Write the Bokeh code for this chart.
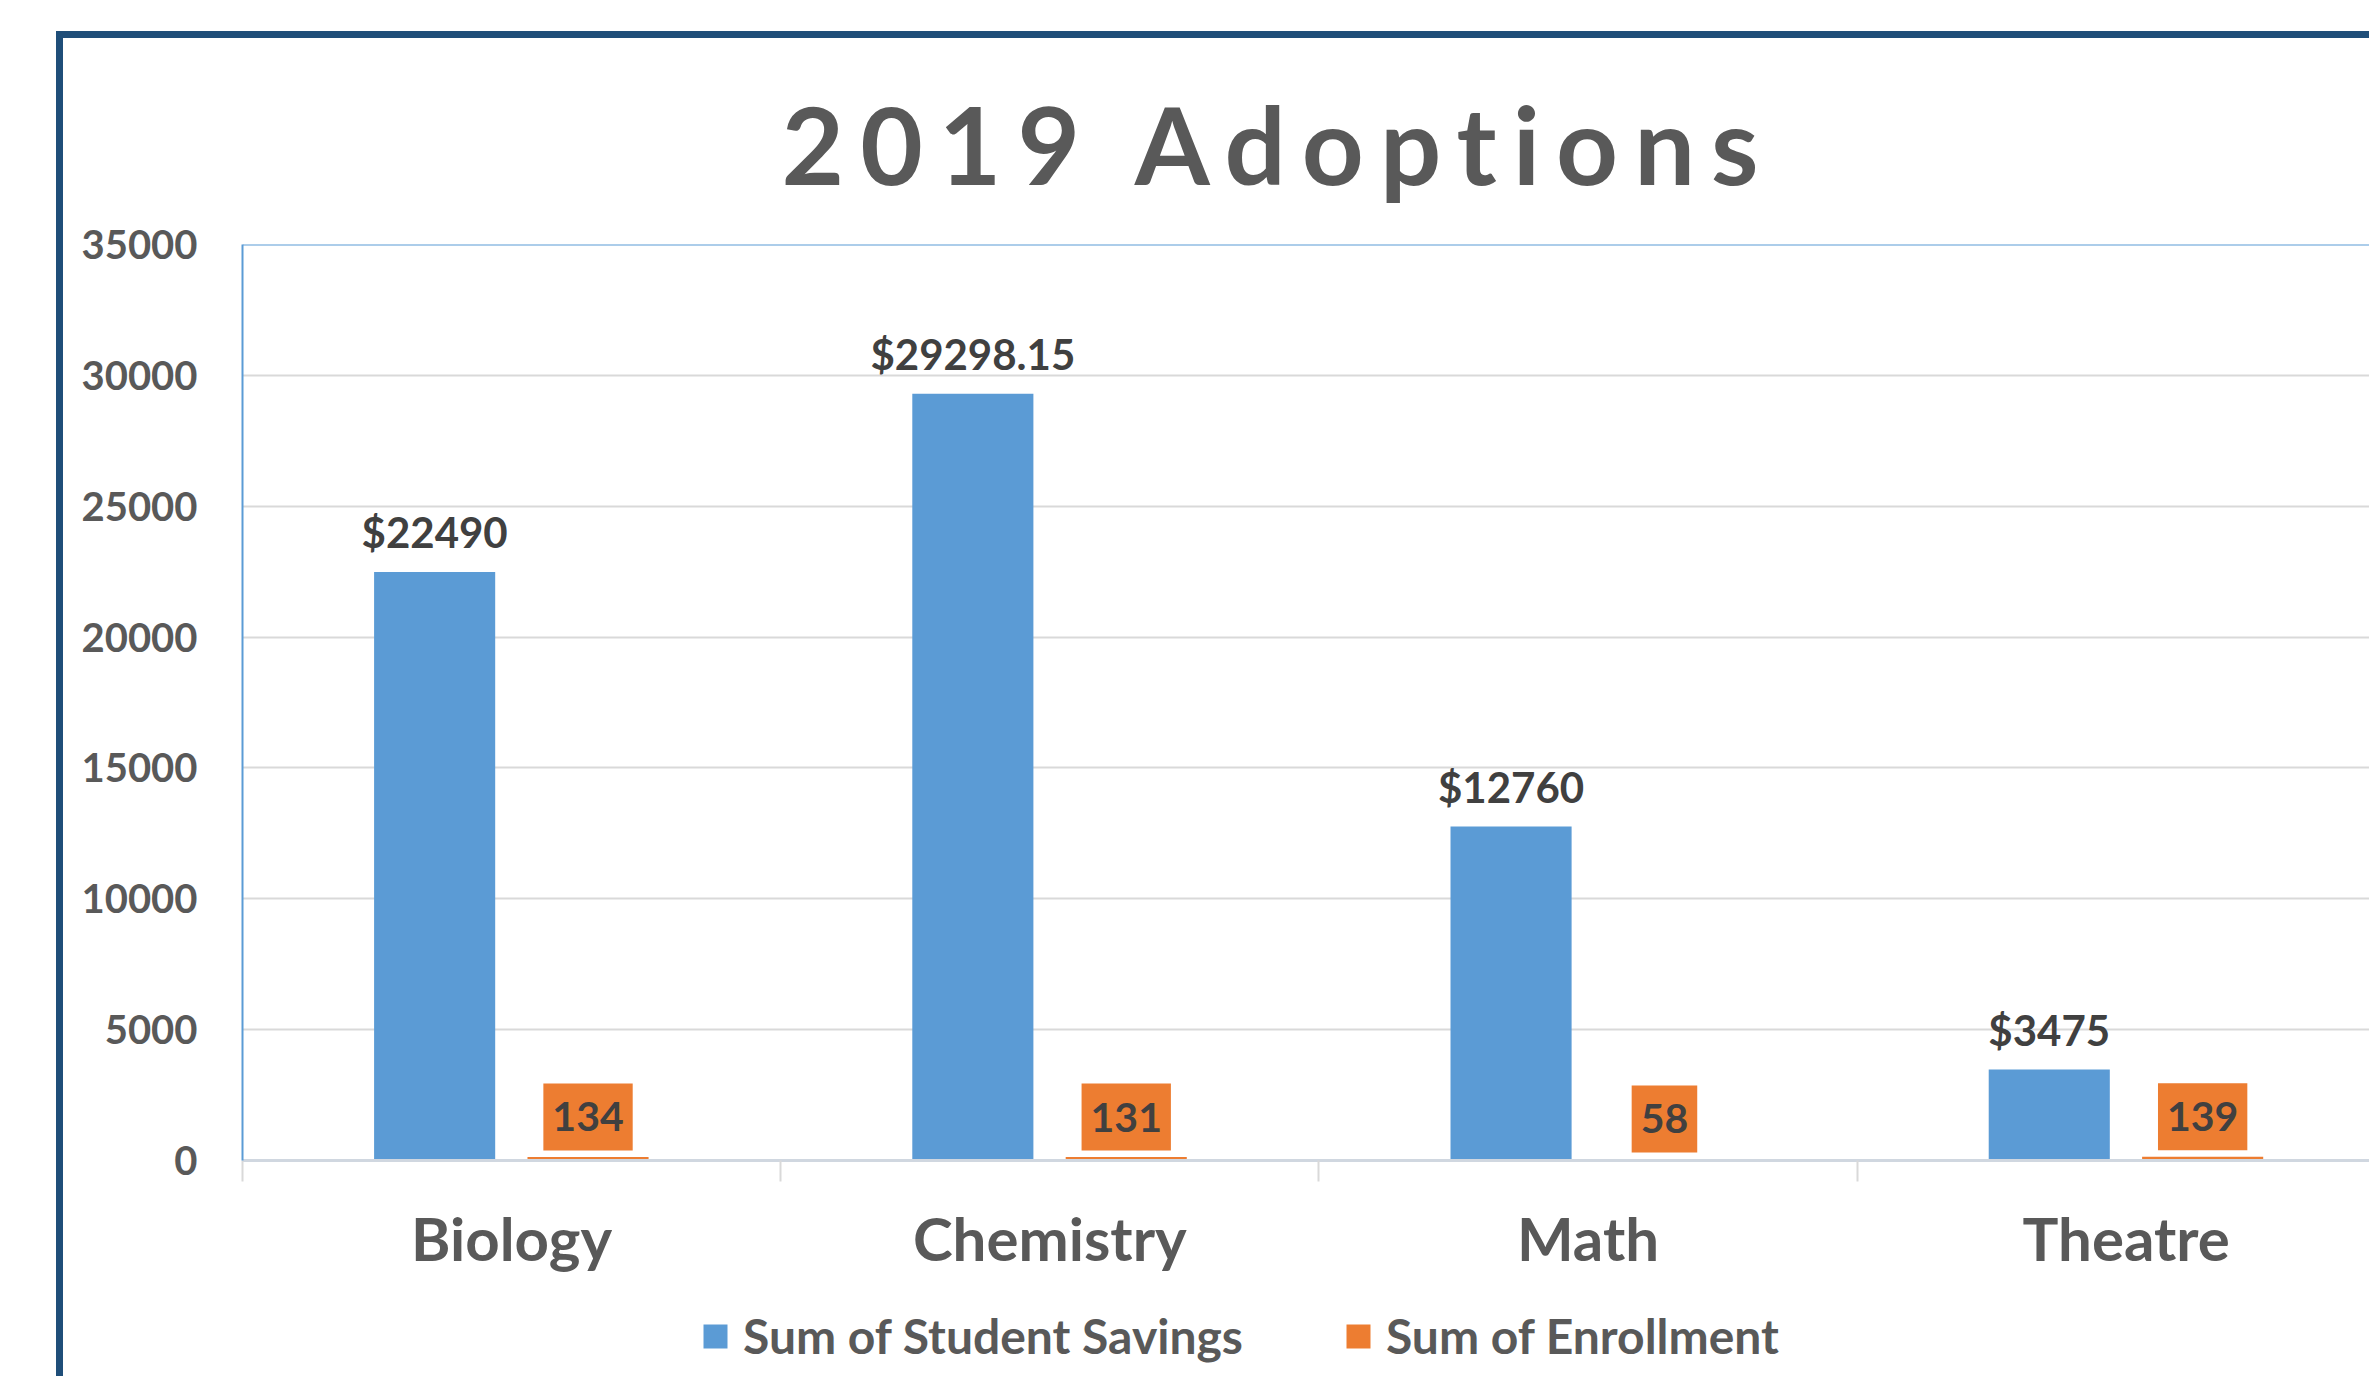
from bokeh.plotting import figure
from bokeh.layouts import column
from bokeh.models import (Range1d, FixedTicker, ColumnDataSource, LabelSet, Label,
                          Legend, LegendItem, Span)
from bokeh.core.properties import value
from bokeh.embed import file_html
from bokeh.resources import INLINE

# ---- data ----
title_text = "2019 Adoptions"
categories = ["Biology", "Chemistry", "Math", "Theatre"]
student_savings = [22490, 29298.15, 12760, 3475]
savings_labels = ["$22490", "$29298.15", "$12760", "$3475"]
enrollment = [134, 131, 58, 139]
enrollment_labels = ["134", "131", "58", "139"]
series_names = ["Sum of Student Savings", "Sum of Enrollment"]
y_ticks = [0, 5000, 10000, 15000, 20000, 25000, 30000, 35000]

FONT = "Lato"
BLUE = "#5B9BD5"
ORANGE = "#ED7D31"
TXT = "#595959"
LBL = "#404040"
FRAME = "#1F4E79"
W = 2369
TITLE_H = 212
LEGEND_H = 76


def strip(height):
    f = figure(width=W, height=height, x_range=Range1d(0, 1), y_range=Range1d(0, 1),
               output_backend="svg", toolbar_location=None,
               x_axis_location=None, y_axis_location=None,
               min_border_left=0, min_border_right=0, min_border_top=0, min_border_bottom=0)
    f.grid.visible = False
    f.outline_line_color = None
    f.background_fill_alpha = 0
    f.border_fill_alpha = 0
    return f


# ---- title strip ----
ts = strip(TITLE_H)
ts.add_layout(Label(x=539, y=TITLE_H - 142, x_units="screen", y_units="screen",
                    text=title_text, text_align="left", text_baseline="middle",
                    text_font=FONT, text_font_style="bold", text_font_size="108px",
                    text_color=TXT))
ts.styles = {"letter-spacing": "16px"}

# ---- main chart ----
centers = [i + 0.5 for i in range(len(categories))]
bx = [c - 0.143 for c in centers]
ox = [c + 0.142 for c in centers]

src = ColumnDataSource(dict(cat=categories, bx=bx, ox=ox, sav=student_savings,
                            slab=savings_labels, enr=enrollment, elab=enrollment_labels))

p = figure(width=W, height=1376 - TITLE_H - LEGEND_H,
           x_range=Range1d(0, 3.952), y_range=Range1d(0, 35000),
           output_backend="svg", toolbar_location=None,
           min_border_left=242, min_border_right=0, min_border_top=32, min_border_bottom=140)
p.outline_line_color = None
p.background_fill_color = "white"
p.border_fill_alpha = 0

blue = p.vbar(x="bx", top="sav", width=0.225, source=src, fill_color=BLUE, line_color=None)
orange = p.vbar(x="ox", top="enr", width=0.225, source=src, fill_color=ORANGE, line_color=None)

xa = p.xaxis[0]
xa.ticker = FixedTicker(ticks=centers, minor_ticks=[0, 1, 2, 3, 4])
xa.major_label_overrides = {c: n for c, n in zip(centers, categories)}
xa.major_tick_line_color = None
xa.major_tick_out = 21
xa.major_tick_in = 0
xa.minor_tick_line_color = "#D9D9D9"
xa.minor_tick_line_width = 2
xa.minor_tick_out = 21
xa.minor_tick_in = 0
xa.axis_line_color = "#D0D7E0"
xa.axis_line_width = 3
xa.major_label_text_font = FONT
xa.major_label_text_font_style = "bold"
xa.major_label_text_font_size = "60px"
xa.major_label_text_color = TXT
xa.major_label_standoff = 20

ya = p.yaxis[0]
ya.ticker = FixedTicker(ticks=y_ticks)
ya.major_tick_line_color = None
ya.major_tick_out = 0
ya.major_tick_in = 0
ya.minor_tick_line_color = None
ya.axis_line_color = BLUE
ya.axis_line_width = 2
ya.major_label_text_font = FONT
ya.major_label_text_font_style = "bold"
ya.major_label_text_font_size = "40px"
ya.major_label_text_color = TXT
ya.major_label_standoff = 45

p.xgrid.grid_line_color = None
p.ygrid.grid_line_color = "#D9D9D9"
p.ygrid.grid_line_width = 2

p.add_layout(Span(location=35000, dimension="width", line_color=BLUE, line_width=2))

p.add_layout(LabelSet(x="bx", y="sav", text="slab", source=src, y_offset=24,
                      text_align="center", text_baseline="alphabetic",
                      text_font=value(FONT), text_font_style="bold",
                      text_font_size="42px", text_color=LBL))
for xv, yv, t in zip(ox, enrollment, enrollment_labels):
    p.add_layout(Label(x=xv, y=yv, text=t, y_offset=40, text_align="center",
                       text_baseline="middle", text_font=FONT, text_font_style="bold",
                       text_font_size="41px", text_color=LBL,
                       background_fill_color=ORANGE, padding=(9, 19)))

# ---- legend strip ----
lg = strip(LEGEND_H)
# legend keys: zero-height placeholders that only carry the series colours
key_b = lg.vbar(x=[-5], top=[0], width=0.1, fill_color=BLUE, line_color=None)
key_o = lg.vbar(x=[-5], top=[0], width=0.1, fill_color=ORANGE, line_color=None)
legend = Legend(items=[LegendItem(label=series_names[0], renderers=[key_b]),
                       LegendItem(label=series_names[1], renderers=[key_o])],
                orientation="horizontal", location=(458, 12),
                border_line_color=None, background_fill_alpha=0, padding=0, margin=0,
                glyph_width=30, glyph_height=30, label_standoff=13, spacing=100,
                label_text_font=FONT, label_text_font_style="bold",
                label_text_font_size="48px", label_text_color=TXT)
lg.add_layout(legend)

layout = column(ts, p, lg, spacing=0)
# outer chart border (left and top edges visible; right/bottom lie outside the view)
layout.styles = {
    "background-color": "white",
    "background-image": f"linear-gradient({FRAME},{FRAME}), linear-gradient({FRAME},{FRAME})",
    "background-size": "7px 1400px, 2400px 7px",
    "background-position": "56px 31px, 56px 31px",
    "background-repeat": "no-repeat",
}

open("out.html", "w").write(file_html(layout, INLINE))
